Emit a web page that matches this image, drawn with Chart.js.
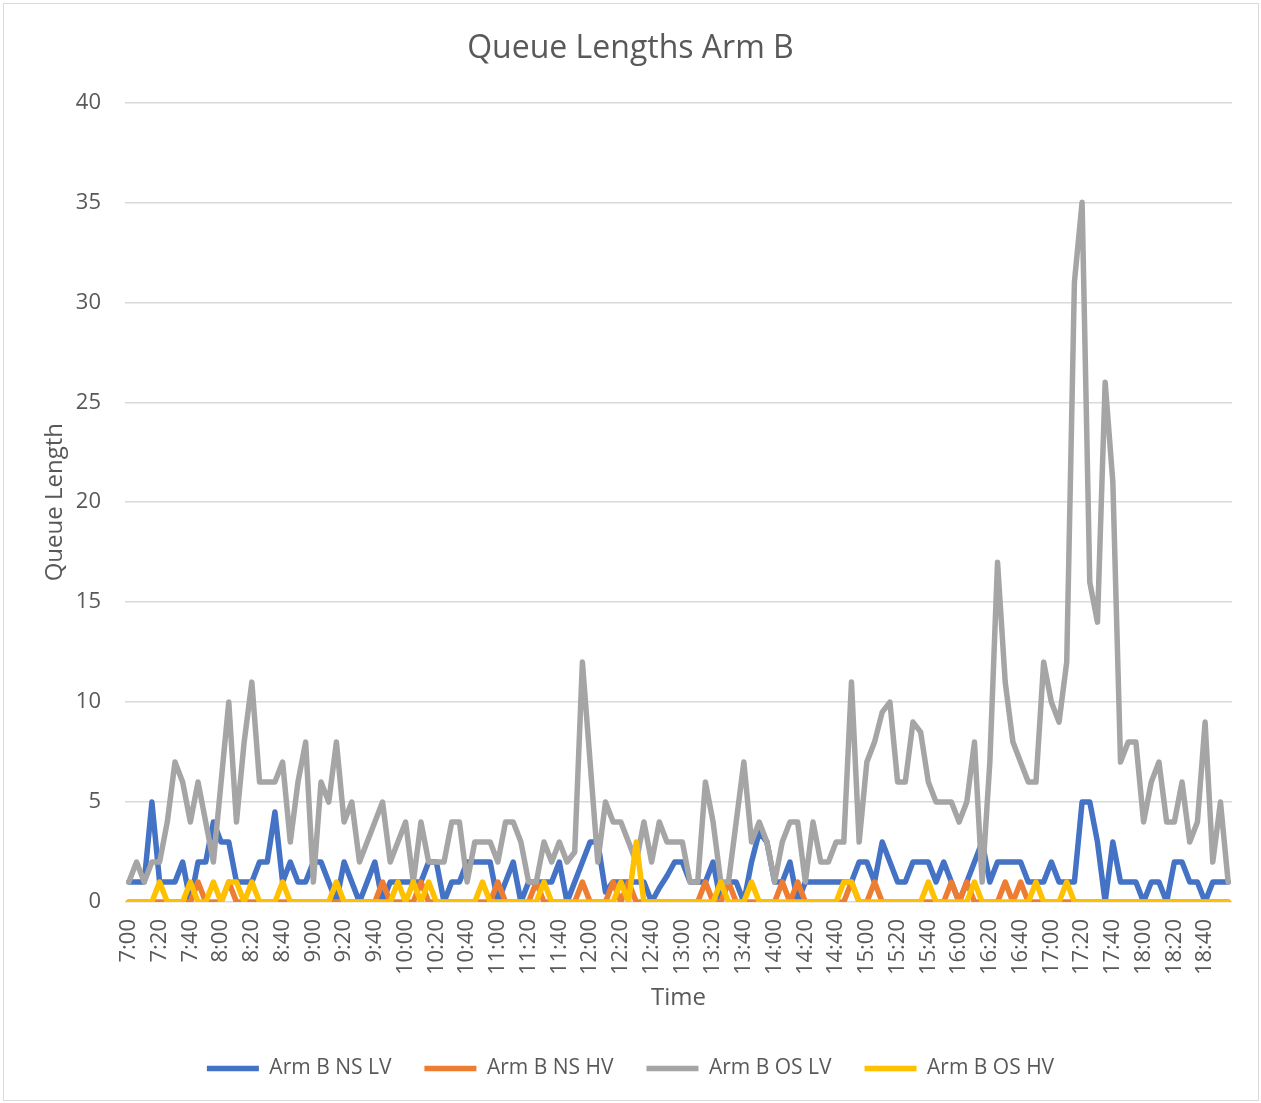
<!DOCTYPE html>
<html>
<head>
<meta charset="utf-8">
<title>Queue Lengths Arm B</title>
<script src="https://cdn.jsdelivr.net/npm/chart.js@4.4.1/dist/chart.umd.min.js"></script>
<style>
  body { margin: 0; background: #fff; }
  .wrap { position: relative; width: 1261px; height: 1103px; }
  .frame { position: absolute; left: 3px; top: 3px; width: 1254px; height: 1096px; border: 1px solid #d9d9d9; pointer-events: none; }
</style>
</head>
<body>
<div class="wrap">
  <canvas id="chart" width="1261" height="1103"></canvas>
  <div class="frame"></div>
</div>
<script>
// 5 minute intervals, 7:00 to 18:55
const times = [
  '7:00','7:05','7:10','7:15','7:20','7:25','7:30','7:35','7:40','7:45','7:50','7:55',
  '8:00','8:05','8:10','8:15','8:20','8:25','8:30','8:35','8:40','8:45','8:50','8:55',
  '9:00','9:05','9:10','9:15','9:20','9:25','9:30','9:35','9:40','9:45','9:50','9:55',
  '10:00','10:05','10:10','10:15','10:20','10:25','10:30','10:35','10:40','10:45','10:50','10:55',
  '11:00','11:05','11:10','11:15','11:20','11:25','11:30','11:35','11:40','11:45','11:50','11:55',
  '12:00','12:05','12:10','12:15','12:20','12:25','12:30','12:35','12:40','12:45','12:50','12:55',
  '13:00','13:05','13:10','13:15','13:20','13:25','13:30','13:35','13:40','13:45','13:50','13:55',
  '14:00','14:05','14:10','14:15','14:20','14:25','14:30','14:35','14:40','14:45','14:50','14:55',
  '15:00','15:05','15:10','15:15','15:20','15:25','15:30','15:35','15:40','15:45','15:50','15:55',
  '16:00','16:05','16:10','16:15','16:20','16:25','16:30','16:35','16:40','16:45','16:50','16:55',
  '17:00','17:05','17:10','17:15','17:20','17:25','17:30','17:35','17:40','17:45','17:50','17:55',
  '18:00','18:05','18:10','18:15','18:20','18:25','18:30','18:35','18:40','18:45','18:50','18:55'
];

const nsLV = [
  1,1,1,5,1,1,1,2,0,2,2,4,
  3,3,1,1,1,2,2,4.5,1,2,1,1,
  2,2,1,0,2,1,0,1,2,0,1,1,
  1,1,1,2,2,0,1,1,2,2,2,2,
  0,1,2,0,1,1,1,1,2,0,1,2,
  3,3,0.5,1,1,1,1,1,0,0.7,1.3,2,
  2,1,1,1,2,0,1,1,0,2,3.5,3,
  1,1,2,0,1,1,1,1,1,1,1,2,
  2,1,3,2,1,1,2,2,2,1,2,1,
  0,1,2,3,1,2,2,2,2,1,1,1,
  2,1,1,1,5,5,3,0,3,1,1,1,
  0,1,1,0,2,2,1,1,0,1,1,1
];

const nsHV = [
  0,0,0,0,0,0,0,0,0,1,0,0,
  0,1,0,0,0,0,0,0,0,0,0,0,
  0,0,0,0,0,0,0,0,0,1,0,0,
  0,0,1,0,0,0,0,0,0,0,0,0,
  1,0,0,0,0,1,0,0,0,0,0,1,
  0,0,0,1,0,1,0,0,0,0,0,0,
  0,0,0,1,0,0,1,0,0,0,0,0,
  0,1,0,1,0,0,0,0,0,0,1,0,
  0,1,0,0,0,0,0,0,0,0,0,1,
  0,1,0,0,0,0,1,0,1,0,0,0,
  0,0,0,0,0,0,0,0,0,0,0,0,
  0,0,0,0,0,0,0,0,0,0,0,0
];

const osLV = [
  1,2,1,2,2,4,7,6,4,6,4,2,
  6,10,4,8,11,6,6,6,7,3,6,8,
  1,6,5,8,4,5,2,3,4,5,2,3,
  4,1,4,2,2,2,4,4,1,3,3,3,
  2,4,4,3,1,1,3,2,3,2,2.5,12,
  7,2,5,4,4,3,2,4,2,4,3,3,
  3,1,1,6,4,1,1,4,7,3,4,3,
  1,3,4,4,1,4,2,2,3,3,11,3,
  7,8,9.5,10,6,6,9,8.5,6,5,5,5,
  4,5,8,1,7,17,11,8,7,6,6,12,
  10,9,12,31,35,16,14,26,21,7,8,8,
  4,6,7,4,4,6,3,4,9,2,5,1
];

const osHV = [
  0,0,0,0,1,0,0,0,1,0,0,1,
  0,1,1,0,1,0,0,0,1,0,0,0,
  0,0,0,1,0,0,0,0,0,0,0,1,
  0,1,0,1,0,0,0,0,0,0,1,0,
  0,0,0,0,0,0,1,0,0,0,0,0,
  0,0,0,0,1,0,3,0,0,0,0,0,
  0,0,0,0,0,1,0,0,0,1,0,0,
  0,0,0,0,0,0,0,0,0,1,1,0,
  0,0,0,0,0,0,0,0,1,0,0,0,
  0,0,1,0,0,0,0,0,0,0,1,0,
  0,0,1,0,0,0,0,0,0,0,0,0,
  0,0,0,0,0,0,0,0,0,0,0,0
];

const textColor = '#595959';
Chart.defaults.font.family = "'Open Sans', sans-serif";
Chart.defaults.color = textColor;

// excel draws later series on top, chart.js draws lower "order" on top
const series = (label, data, color, order) => ({
  label: label,
  data: data,
  borderColor: color,
  backgroundColor: color,
  borderWidth: 5.5,
  pointRadius: 0,
  pointHoverRadius: 0,
  tension: 0,
  fill: false,
  borderJoinStyle: 'round',
  borderCapStyle: 'round',
  order: order
});

new Chart(document.getElementById('chart'), {
  type: 'line',
  data: {
    labels: times,
    datasets: [
      series('Arm B NS LV', nsLV, '#4472C4', 4),
      series('Arm B NS HV', nsHV, '#ED7D31', 3),
      series('Arm B OS LV', osLV, '#A5A5A5', 2),
      series('Arm B OS HV', osHV, '#FFC000', 1)
    ]
  },
  options: {
    responsive: false,
    animation: false,
    devicePixelRatio: 1,
    layout: { padding: { left: 6, right: 6, top: 0, bottom: 14 } },
    plugins: {
      title: {
        display: true,
        text: 'Queue Lengths Arm B',
        color: textColor,
        font: { size: 32, weight: 'normal' },
        padding: { top: 30, bottom: 34 }
      },
      legend: {
        position: 'bottom',
        labels: {
          usePointStyle: true,
          pointStyle: 'line',
          pointStyleWidth: 52,
          padding: 33,
          color: textColor,
          font: { size: 21 },
          sort: (a, b) => a.datasetIndex - b.datasetIndex
        }
      },
      tooltip: { enabled: false }
    },
    scales: {
      x: {
        offset: true,
        grid: { display: false, drawTicks: false },
        border: { display: false },
        ticks: {
          autoSkip: false,
          minRotation: 90,
          maxRotation: 90,
          padding: 17,
          font: { size: 22 },
          callback: function (v, i) {
            return i % 4 === 0 ? this.getLabelForValue(v) : '';
          }
        },
        title: {
          display: true,
          text: 'Time',
          font: { size: 24 },
          padding: { top: 0, bottom: 12 }
        },
        afterFit: (s) => {
          s.height = 123;
          s.paddingLeft = 0;
          s.paddingRight = 0;
        }
      },
      y: {
        min: 0,
        max: 40,
        ticks: { stepSize: 5, padding: 24, font: { size: 22 } },
        grid: { color: '#d9d9d9', lineWidth: 1.5, drawTicks: false },
        border: { display: false },
        title: {
          display: true,
          text: 'Queue Length',
          font: { size: 24 },
          padding: { top: 35, bottom: 0 }
        },
        afterFit: (s) => { s.width = 119; }
      },
      // empty right gutter so title and legend stay centred on the frame
      gutter: {
        type: 'linear',
        position: 'right',
        display: true,
        ticks: { display: false },
        grid: { display: false, drawTicks: false },
        border: { display: false },
        afterFit: (s) => { s.width = 23; }
      }
    }
  }
});
</script>
</body>
</html>
